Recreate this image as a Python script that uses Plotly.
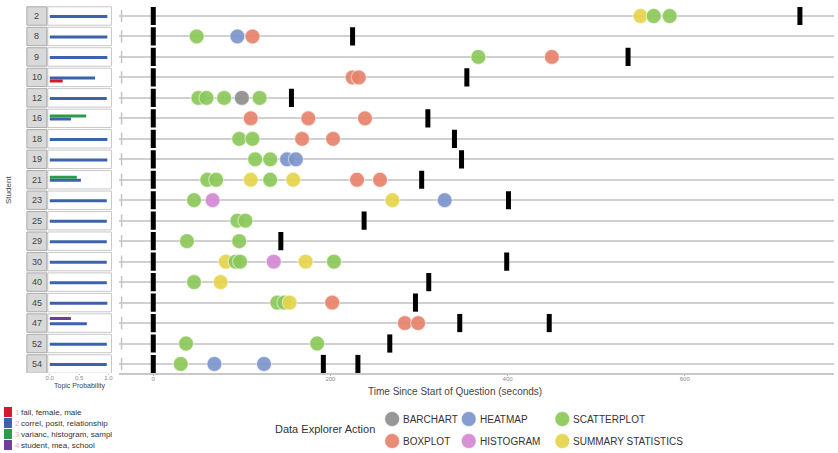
import plotly.graph_objects as go

W, H = 838, 453

# ---- data -------------------------------------------------------------
students = [2, 8, 9, 10, 12, 16, 18, 19, 21, 23, 25, 29, 30, 40, 45, 47, 52, 54]

# topic probabilities per student (same order as `students`)
topic1 = [0, 0, 0, 0.22, 0, 0, 0, 0, 0, 0, 0, 0, 0, 0, 0, 0, 0, 0]
topic2 = [0.98, 0.98, 0.98, 0.77, 0.97, 0.36, 0.98, 0.98, 0.53, 0.97, 0.97, 0.97, 0.97, 0.97, 0.98, 0.63, 0.97, 0.97]
topic3 = [0, 0, 0, 0, 0, 0.62, 0, 0, 0.46, 0, 0, 0, 0, 0, 0, 0, 0, 0]
topic4 = [0, 0, 0, 0, 0, 0, 0, 0, 0, 0, 0, 0, 0, 0, 0, 0.36, 0, 0]
topic_names = ["fail, female, male", "correl, posit, relationship",
               "varianc, histogram, sampl", "student, mea, school"]
topic_colors = ["#d11a2a", "#3a63ab", "#2c9a4b", "#6f3f98"]

# data explorer actions: (student, seconds since start of question)
barchart = [(12, 100)]
heatmap = [(8, 95), (19, 151), (19, 161), (23, 329), (54, 69), (54, 125)]
scatterplot = [(2, 565), (2, 583), (8, 49), (9, 367), (12, 51), (12, 60), (12, 80),
               (12, 120), (18, 97), (18, 112), (19, 115), (19, 132), (21, 61), (21, 71),
               (21, 132), (23, 46), (25, 95), (25, 104), (29, 38), (29, 97), (30, 93),
               (30, 98), (30, 204), (40, 46), (45, 140), (45, 148), (52, 37), (52, 185),
               (54, 31)]
boxplot = [(8, 112), (9, 450), (10, 225), (10, 232), (16, 110), (16, 175), (16, 239),
           (18, 168), (18, 203), (21, 230), (21, 256), (45, 202), (47, 284), (47, 299)]
histogram = [(23, 67), (30, 136)]
summary_statistics = [(2, 550), (21, 110), (21, 158), (23, 270), (30, 82), (30, 172),
                      (40, 76), (45, 154)]

# answer submissions (student, seconds)
answers = [(2, 730), (8, 225), (9, 536), (10, 354), (12, 156), (16, 310), (18, 340),
           (19, 348), (21, 303), (23, 401), (25, 238), (29, 144), (30, 399), (40, 311),
           (45, 296), (47, 346), (47, 447), (52, 267), (54, 192), (54, 231)]

action_names = ["BARCHART", "HEATMAP", "SCATTERPLOT", "BOXPLOT", "HISTOGRAM", "SUMMARY STATISTICS"]
action_data = [barchart, heatmap, scatterplot, boxplot, histogram, summary_statistics]
action_colors = ["#8f8f8f", "#7d95cc", "#8cc85a", "#e8836c", "#d488d4", "#e6d54c"]

time_ticks = [0, 200, 400, 600]
prob_ticks = [0, 0.5, 1.0]
prob_tick_text = ["0.0", "0.5", "1.0"]

# ---- layout helpers ---------------------------------------------------
row = {s: i for i, s in enumerate(students)}
n = len(students)
TOP_PX, BOT_PX, ROW0_PX, ROW_STEP = 5, 373, 16, 20.47
y_dom = [1 - BOT_PX / H, 1 - TOP_PX / H]
y_rng = [(BOT_PX - ROW0_PX) / ROW_STEP, (TOP_PX - ROW0_PX) / ROW_STEP]


def px(x):
    return x / W


def py(y):
    return 1 - y / H


def label(x, y, text, size, color="#333", xanchor="center", xref="paper", yref="paper", **kw):
    return dict(x=x, y=y, xref=xref, yref=yref, text=text, showarrow=False,
                xanchor=xanchor, yanchor="middle", font=dict(size=size, color=color), **kw)


fig = go.Figure()

# topic probability bars (left panel)
offsets = [0.18, 0.03, -0.12, -0.22]
for k, probs in enumerate([topic1, topic2, topic3, topic4]):
    xs, ys = [], []
    for s, p in zip(students, probs):
        if p > 0.01:
            yy = row[s] + offsets[k]
            xs += [0, p, None]
            ys += [yy, yy, None]
    fig.add_trace(go.Scatter(x=xs, y=ys, mode="lines", xaxis="x2", yaxis="y2",
                             line=dict(color=topic_colors[k], width=3),
                             hoverinfo="skip", showlegend=False))

# question start markers
fig.add_trace(go.Scatter(
    x=[0] * n, y=[row[s] for s in students], mode="markers",
    marker=dict(symbol="line-ns", size=13, line=dict(color="black", width=5)),
    hoverinfo="skip", showlegend=False))

# action events, drawn in time order so later ones sit on top
events = []
for name, col, data in zip(action_names, action_colors, action_data):
    for s, t in data:
        events.append((t, s, name, col))
events.sort(key=lambda e: e[0])
fig.add_trace(go.Scatter(
    x=[e[0] for e in events], y=[row[e[1]] for e in events], mode="markers",
    text=[e[2] for e in events],
    marker=dict(size=15, color=[e[3] for e in events], opacity=0.92,
                line=dict(color="rgba(255,255,255,0.55)", width=1.2)),
    hovertemplate="%{text}: %{x}s<extra></extra>", showlegend=False))

# answer markers
fig.add_trace(go.Scatter(
    x=[t for s, t in answers], y=[row[s] for s, t in answers], mode="markers",
    marker=dict(symbol="line-ns", size=13, line=dict(color="black", width=5)),
    hoverinfo="skip", showlegend=False))

shapes = []
annotations = []

# left panel frames, student strips and labels
for s in students:
    i = row[s]
    shapes.append(dict(type="rect", xref="x2 domain", yref="y2", x0=0, x1=1,
                       y0=i - 0.45, y1=i + 0.45, line=dict(color="#c8c8c8", width=1),
                       fillcolor="rgba(0,0,0,0)", layer="below"))
    shapes.append(dict(type="rect", xref="paper", yref="y2", x0=px(25), x1=px(45),
                       y0=i - 0.45, y1=i + 0.45, line=dict(color="#aaaaaa", width=1),
                       fillcolor="#d9d9d9", layer="below"))
    annotations.append(label(px(35), i, str(s), 9, "#444", yref="y2"))
    # short frame tick at the left edge of each timeline row
    shapes.append(dict(type="line", xref="x domain", yref="y", x0=0.003, x1=0.003,
                       y0=i - 0.3, y1=i + 0.3, line=dict(color="#c4c4c4", width=1.5)))

annotations.append(label(px(7), py(190), "Student", 8, "#444", textangle=-90))
annotations.append(label(px(78), py(386), "Topic Probability", 7, "#444"))
annotations.append(label(px(455), py(391), "Time Since Start of Question (seconds)", 10, "#444"))

# topic legend
for k in range(4):
    yy = 412 + 11 * k
    shapes.append(dict(type="rect", xref="paper", yref="paper", x0=px(2), x1=px(10),
                       y0=py(yy + 5), y1=py(yy - 5), line=dict(width=0),
                       fillcolor=topic_colors[k]))
    annotations.append(label(px(11), py(yy), f"{k + 1}", 8, "#e3b4b4", xanchor="left"))
    annotations.append(label(px(17), py(yy), topic_names[k], 8, "#333", xanchor="left"))

# action legend
annotations.append(label(px(377), py(429), "Data Explorer Action", 11, xanchor="right"))
leg_x = [392, 469, 563]
leg_y = [419, 441]
order = [(0, 0, 0), (1, 1, 0), (2, 2, 0), (3, 0, 1), (4, 1, 1), (5, 2, 1)]
for k, c, r in order:
    cx, cy = leg_x[c], leg_y[r]
    shapes.append(dict(type="circle", xref="paper", yref="paper",
                       x0=px(cx - 7.5), x1=px(cx + 7.5), y0=py(cy + 7.5), y1=py(cy - 7.5),
                       fillcolor=action_colors[k], opacity=0.92,
                       line=dict(color="rgba(255,255,255,0.6)", width=1)))
    annotations.append(label(px(cx + 9), py(cy), action_names[k], 10, xanchor="left"))

fig.update_layout(
    width=W, height=H, margin=dict(l=0, r=0, t=0, b=0), autosize=False,
    paper_bgcolor="white", plot_bgcolor="white",
    font=dict(family="Arial, Liberation Sans, sans-serif"),
    xaxis=dict(domain=[px(118), px(836)], range=[-38.2, 768.5], anchor="y",
               tickvals=time_ticks, ticks="outside", ticklen=1, tickcolor="#aaa",
               ticklabelstandoff=-2,
               tickfont=dict(size=6, color="#888"), showgrid=False, zeroline=False,
               showline=True, linecolor="#c8c8c8", linewidth=1.5),
    yaxis=dict(domain=y_dom, range=y_rng, anchor="x", tickvals=list(range(n)),
               showticklabels=False, showgrid=True, gridcolor="#d0d0d0", gridwidth=1.5,
               zeroline=False, ticks=""),
    xaxis2=dict(domain=[px(46), px(110)], range=[-0.034, 1.05], anchor="y2",
                tickvals=prob_ticks, ticktext=prob_tick_text, ticks="outside", ticklen=1,
                ticklabelstandoff=-2,
                tickcolor="#aaa", tickfont=dict(size=6, color="#888"), showgrid=False,
                zeroline=False, showline=False),
    yaxis2=dict(domain=y_dom, range=y_rng, anchor="x2", showticklabels=False,
                showgrid=False, zeroline=False),
    shapes=shapes, annotations=annotations,
)

fig.write_html("out.html")
